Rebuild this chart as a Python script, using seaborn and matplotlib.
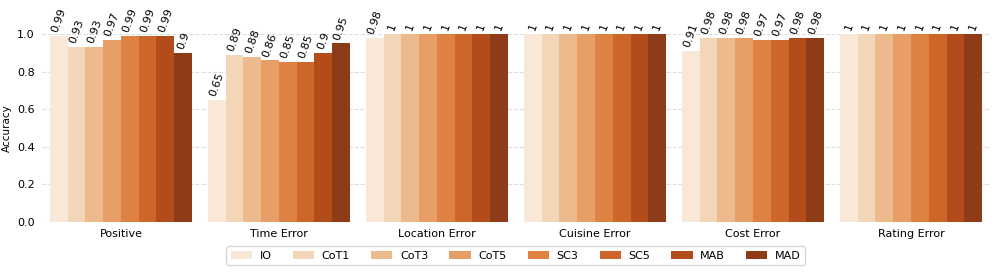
import matplotlib
matplotlib.use("Agg")
import matplotlib.pyplot as plt
import seaborn as sns
import pandas as pd

categories = ["Positive", "Time Error", "Location Error", "Cuisine Error", "Cost Error", "Rating Error"]
methods = ["IO", "CoT1", "CoT3", "CoT5", "SC3", "SC5", "MAB", "MAD"]
positive = [0.99, 0.93, 0.93, 0.97, 0.99, 0.99, 0.99, 0.9]
time_error = [0.65, 0.89, 0.88, 0.86, 0.85, 0.85, 0.9, 0.95]
location_error = [0.98, 1, 1, 1, 1, 1, 1, 1]
cuisine_error = [1, 1, 1, 1, 1, 1, 1, 1]
cost_error = [0.91, 0.98, 0.98, 0.98, 0.97, 0.97, 0.98, 0.98]
rating_error = [1, 1, 1, 1, 1, 1, 1, 1]

series = [positive, time_error, location_error, cuisine_error, cost_error, rating_error]
rows = []
for cat, vals in zip(categories, series):
    for m, v in zip(methods, vals):
        rows.append({"Category": cat, "Method": m, "Accuracy": v})
df = pd.DataFrame(rows)

sns.set_theme(style="whitegrid")
plt.rcParams["font.family"] = ["DejaVu Sans"]
plt.rcParams["text.color"] = "black"
plt.rcParams["axes.labelcolor"] = "black"
plt.rcParams["xtick.labelcolor"] = "black"
plt.rcParams["ytick.labelcolor"] = "black"
fig, ax = plt.subplots(figsize=(9.97, 2.74), dpi=100)
fig.subplots_adjust(left=0.042, right=0.993, top=0.876, bottom=0.19)

sns.barplot(data=df, x="Category", y="Accuracy", hue="Method", order=categories,
            hue_order=methods, palette="Oranges", width=0.9, linewidth=0, ax=ax)

for cont in ax.containers:
    labels = [f"{b.get_height():g}" for b in cont]
    ax.bar_label(cont, labels=labels, rotation=70, padding=1.5, fontsize=8, color="black")

ax.set_ylim(0, 1.0)
ax.set_yticks([0, 0.2, 0.4, 0.6, 0.8, 1.0])
ax.set_yticklabels(["0.0", "0.2", "0.4", "0.6", "0.8", "1.0"], fontsize=8)
ax.tick_params(axis="x", labelsize=8, length=3, color="#555555", pad=2, labelcolor="black")
ax.tick_params(axis="y", length=3, color="#555555", pad=2, labelcolor="black")
ax.set_xlabel("")
ax.set_ylabel("Accuracy", fontsize=7.5, labelpad=4, color="black")
ax.grid(axis="y", linestyle="--", color="#dddddd", linewidth=0.8)
ax.grid(axis="x", visible=False)
ax.set_axisbelow(True)
for s in ax.spines.values():
    s.set_visible(False)

leg = ax.legend(loc="upper center", bbox_to_anchor=(0.5, -0.1), ncol=8, fontsize=8,
                frameon=True, handlelength=1.9, handletextpad=0.7, columnspacing=1.9)
for t in leg.get_texts():
    t.set_color("black")

fig.savefig("out.png", dpi=100)
